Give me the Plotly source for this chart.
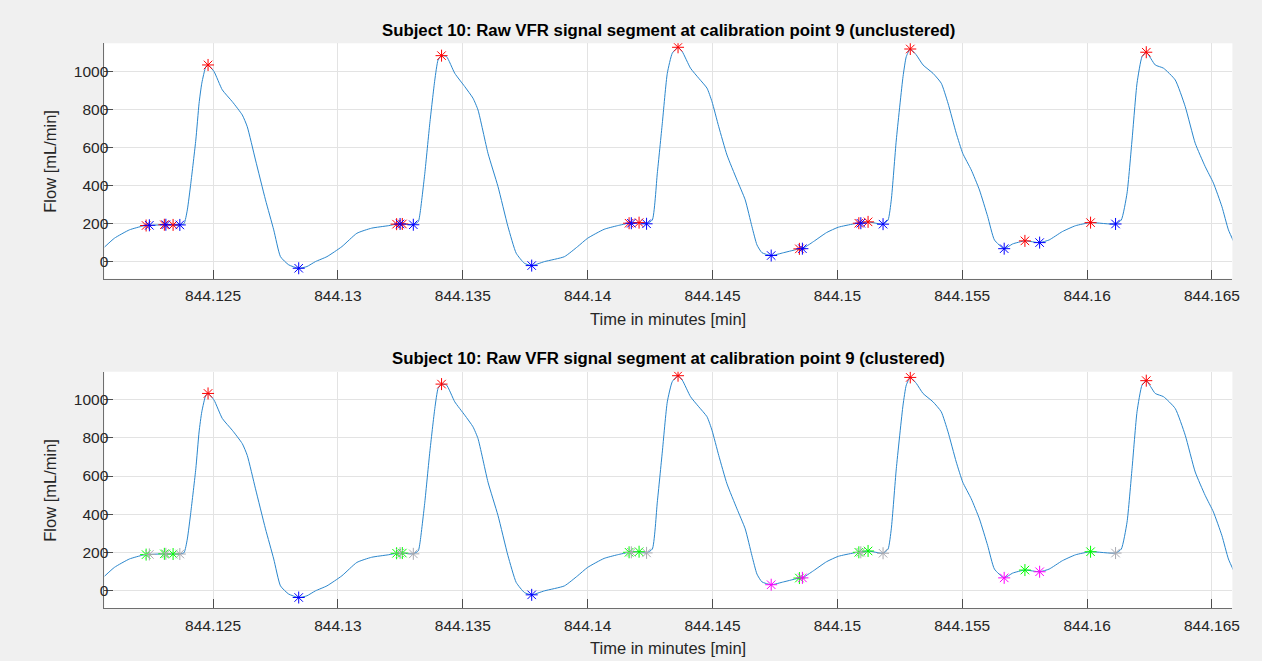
import plotly.graph_objects as go

# Raw VFR flow signal (time in minutes, flow in mL/min)
time_min = [
    844.12065, 844.12105, 844.12165, 844.12218, 844.12232, 844.12245, 844.12305, 844.12311,
    844.12340, 844.12367, 844.12384, 844.12397, 844.12411, 844.12431, 844.12444, 844.12455,
    844.12471, 844.12480, 844.12504, 844.12537, 844.12577, 844.12617, 844.12637, 844.12670,
    844.12710, 844.12743, 844.12770, 844.12803, 844.12843, 844.12876, 844.12910, 844.12956,
    844.13016, 844.13076, 844.13135, 844.13202, 844.13235, 844.13249, 844.13258, 844.13302,
    844.13322, 844.13329, 844.13348, 844.13368, 844.13388, 844.13401, 844.13415, 844.13435,
    844.13468, 844.13508, 844.13541, 844.13561, 844.13601, 844.13641, 844.13681, 844.13714,
    844.13747, 844.13776, 844.13827, 844.13907, 844.13960, 844.14000, 844.14066, 844.14119,
    844.14166, 844.14175, 844.14206, 844.14236, 844.14259, 844.14279, 844.14299, 844.14319,
    844.14339, 844.14362, 844.14379, 844.14412, 844.14445, 844.14478, 844.14498, 844.14525,
    844.14558, 844.14598, 844.14631, 844.14658, 844.14678, 844.14698, 844.14735, 844.14785,
    844.14848, 844.14860, 844.14904, 844.14957, 844.15004, 844.15064, 844.15086, 844.15094,
    844.15123, 844.15183, 844.15203, 844.15216, 844.15236, 844.15263, 844.15276, 844.15292,
    844.15316, 844.15343, 844.15383, 844.15416, 844.15443, 844.15476, 844.15502, 844.15536,
    844.15569, 844.15602, 844.15629, 844.15668, 844.15702, 844.15751, 844.15810, 844.15848,
    844.15901, 844.15954, 844.16014, 844.16114, 844.16137, 844.16160, 844.16180, 844.16200,
    844.16220, 844.16237, 844.16273, 844.16306, 844.16353, 844.16393, 844.16433, 844.16473,
    844.16506, 844.16540, 844.16566, 844.16590,
]
flow = [
    74, 121, 165, 185, 188, 189, 192, 192,
    191, 191, 198, 270, 410, 638, 831, 937,
    1024, 1033, 998, 902, 840, 770, 708, 533,
    323, 165, 24, -19, -37, -28, -2, 24,
    77, 147, 174, 187, 195, 196, 196, 192,
    208, 253, 463, 726, 954, 1059, 1082, 1077,
    989, 919, 858, 796, 568, 393, 182, 42,
    -11, -23, -2, 24, 77, 121, 168, 187,
    200, 200, 203, 197, 217, 463, 726, 989,
    1095, 1126, 1103, 1016, 963, 911, 840, 708,
    559, 428, 323, 182, 86, 45, 30, 45,
    65, 66, 103, 151, 179, 196, 200, 200,
    207, 195, 217, 323, 638, 972, 1077, 1117,
    1086, 1033, 989, 937, 832, 674, 568, 481,
    375, 235, 112, 66, 91, 107, 98, 112,
    156, 187, 203, 196, 217, 358, 638, 937,
    1077, 1100, 1033, 1016, 954, 814, 621, 498,
    411, 287, 165, 95,
]

# Detected fiducial points
event_time = [
    844.12232, 844.12245, 844.12305, 844.12311, 844.12340, 844.12367, 844.12480, 844.12843,
    844.13235, 844.13249, 844.13258, 844.13302, 844.13415, 844.13776,
    844.14166, 844.14175, 844.14206, 844.14236, 844.14362, 844.14735, 844.14848, 844.14860,
    844.15086, 844.15094, 844.15123, 844.15183, 844.15292, 844.15668, 844.15751, 844.15810,
    844.16014, 844.16114, 844.16237,
]
event_flow = [
    188, 189, 192, 192, 191, 191, 1033, -37,
    195, 196, 196, 192, 1082, -23,
    200, 200, 203, 197, 1126, 30, 65, 66,
    200, 200, 207, 195, 1117, 66, 107, 98,
    203, 196, 1100,
]
# Point type before clustering
event_type = [
    "r", "b", "r", "b", "r", "b", "r", "b",
    "r", "b", "r", "b", "r", "b",
    "r", "b", "r", "b", "r", "b", "r", "b",
    "r", "b", "r", "b", "r", "b", "r", "b",
    "r", "b", "r",
]
# Cluster assignment
event_cluster = [
    "g", "k", "g", "k", "g", "k", "r", "b",
    "g", "k", "g", "k", "r", "b",
    "g", "k", "g", "k", "r", "m", "g", "m",
    "g", "k", "g", "k", "r", "m", "g", "m",
    "g", "k", "r",
]

tick_vals = [844.125, 844.13, 844.135, 844.14, 844.145, 844.15, 844.155, 844.16, 844.165]
tick_text = ["844.125", "844.13", "844.135", "844.14", "844.145", "844.15", "844.155", "844.16", "844.165"]
y_ticks = [0, 200, 400, 600, 800, 1000]

palette = {"r": "#ff0000", "b": "#0000ff", "g": "#00ff00", "k": "#a9a9b0", "m": "#ff00ff"}

W, H = 1262, 661
FONT = "Liberation Sans, Arial, Helvetica, sans-serif"
TXT = "#262626"

fig = go.Figure()


def add_panel(xref, yref, labels):
    fig.add_trace(go.Scatter(
        x=time_min, y=flow, mode="lines", xaxis=xref, yaxis=yref,
        line=dict(color="#2a86cc", width=1, shape="spline", smoothing=0.5),
        showlegend=False, hoverinfo="skip"))
    for key in ["r", "b", "g", "k", "m"]:
        idx = [i for i, c in enumerate(labels) if c == key]
        if not idx:
            continue
        fig.add_trace(go.Scatter(
            x=[event_time[i] for i in idx], y=[event_flow[i] for i in idx],
            mode="markers", xaxis=xref, yaxis=yref, showlegend=False,
            marker=dict(symbol="asterisk-open", size=10, color=palette[key],
                        line=dict(color=palette[key], width=1))))


add_panel("x", "y", event_type)
add_panel("x2", "y2", event_cluster)

x0, x1 = 105 / W, 1239.3 / W
axis_common = dict(
    showline=True, linecolor="#6e6e6e", linewidth=1, mirror=False,
    showgrid=True, gridcolor="#e3e3e3", gridwidth=1, zeroline=False,
    ticks="inside", ticklen=9, tickcolor="#4d4d4d", tickwidth=1,
    tickfont=dict(family=FONT, size=15.5, color=TXT),
)
x_range = [844.12065, 844.16582]
y_range = [-92, 1147]

fig.update_layout(
    width=W, height=H,
    margin=dict(l=0, r=0, t=0, b=0),
    paper_bgcolor="#f0f0f0", plot_bgcolor="#ffffff",
    xaxis=dict(domain=[x0, x1], range=x_range, tickvals=tick_vals, ticktext=tick_text,
               anchor="y", ticklabelstandoff=3, **axis_common),
    yaxis=dict(domain=[1 - 278.7 / H, 1 - 43.3 / H], range=y_range, tickvals=y_ticks,
               anchor="x", ticklabelstandoff=-8, **axis_common),
    xaxis2=dict(domain=[x0, x1], range=x_range, tickvals=tick_vals, ticktext=tick_text,
                anchor="y2", ticklabelstandoff=3, **axis_common),
    yaxis2=dict(domain=[1 - 608 / H, 1 - 371.7 / H], range=y_range, tickvals=y_ticks,
                anchor="x2", ticklabelstandoff=-8, **axis_common),
)

cx = (105 + 1239.3) / 2 / W
texts = [
    ("<b>Subject 10: Raw VFR signal segment at calibration point 9 (unclustered)</b>", cx, 30, 16.8, 0),
    ("<b>Subject 10: Raw VFR signal segment at calibration point 9 (clustered)</b>", cx, 358, 16.8, 0),
    ("Time in minutes [min]", cx, 319, 16.5, 0),
    ("Time in minutes [min]", cx, 648, 16.5, 0),
    ("Flow [mL/min]", 50 / W, 161, 16.5, -90),
    ("Flow [mL/min]", 50 / W, 490, 16.5, -90),
]
for t, x, y, s, ang in texts:
    fig.add_annotation(text=t, x=x, y=1 - y / H, xref="paper", yref="paper",
                       xanchor="center", yanchor="middle", showarrow=False, textangle=ang,
                       font=dict(family=FONT, size=s, color="#000000" if "<b>" in t else TXT))

fig.write_html("out.html")
